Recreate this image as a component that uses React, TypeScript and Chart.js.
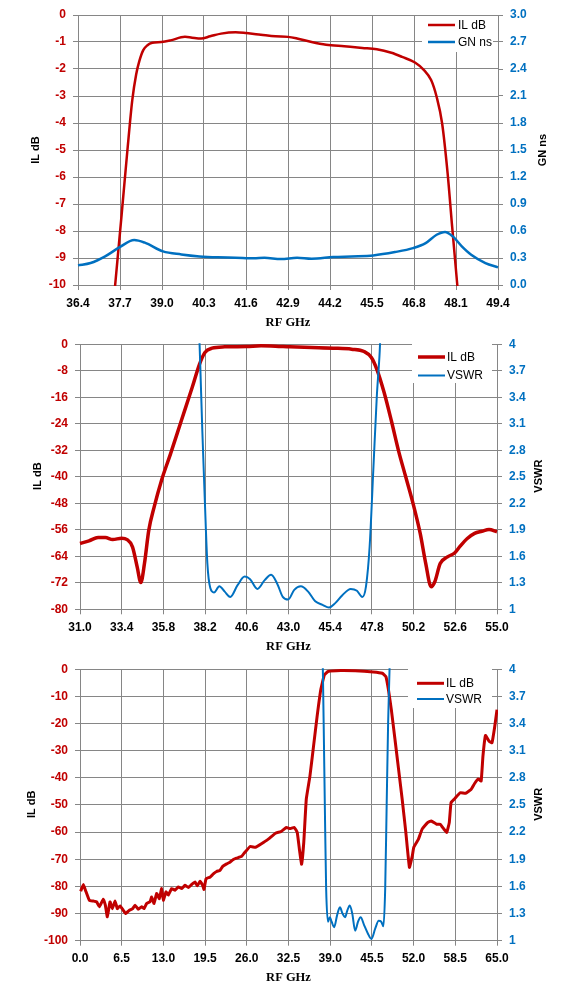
import React, { useEffect, useRef } from 'react';
import { Chart, registerables } from 'chart.js';

Chart.register(...registerables);

const W = 567;
const RED = '#C00000';
const BLUE = '#0070C0';
const GRID = '#868686';
const SANS = '"Liberation Sans", Arial, sans-serif';
const SERIF = '"Liberation Serif", "Times New Roman", serif';

// ---- panel 1: 36.4 .. 49.4 GHz, IL and group delay
const x1Ticks = [36.4, 37.7, 39.0, 40.3, 41.6, 42.9, 44.2, 45.5, 46.8, 48.1, 49.4];
const il1Ticks = [-10, -9, -8, -7, -6, -5, -4, -3, -2, -1, 0];
const gn1Ticks = [0.0, 0.3, 0.6, 0.9, 1.2, 1.5, 1.8, 2.1, 2.4, 2.7, 3.0];

const il1Freq = [37.45, 37.55, 37.75, 37.93, 38.08, 38.2, 38.3, 38.42, 38.55, 38.7, 38.98, 39.26, 39.71, 39.93, 40.21, 40.49, 40.83, 41.28, 41.61, 42.06, 42.51, 42.9, 43.18, 43.63, 44.08, 44.64, 45.2, 45.65, 46.1, 46.43, 46.83, 47.11, 47.33, 47.5, 47.67, 47.84, 47.98, 48.14, 48.24];
const il1 = [-11.3, -10, -7.4, -5.0, -3.15, -2.2, -1.7, -1.3, -1.12, -1.03, -1.0, -0.94, -0.81, -0.84, -0.87, -0.79, -0.69, -0.64, -0.67, -0.73, -0.79, -0.81, -0.87, -1.0, -1.1, -1.16, -1.22, -1.27, -1.4, -1.55, -1.76, -2.04, -2.41, -3.03, -4.01, -5.86, -7.83, -10, -11.3];

const gn1Freq = [36.4, 36.79, 37.24, 37.69, 38.14, 38.47, 39.03, 39.6, 40.16, 40.72, 41.28, 41.84, 42.17, 42.68, 43.18, 43.63, 44.3, 44.86, 45.54, 46.21, 46.77, 47.16, 47.5, 47.76, 48.0, 48.28, 48.57, 49.01, 49.4];
const gn1 = [0.218, 0.244, 0.318, 0.42, 0.5, 0.47, 0.373, 0.34, 0.318, 0.307, 0.303, 0.296, 0.303, 0.288, 0.303, 0.292, 0.31, 0.318, 0.329, 0.366, 0.41, 0.465, 0.558, 0.59, 0.54, 0.43, 0.336, 0.244, 0.196];

// ---- panel 2: 31 .. 55 GHz, IL and VSWR
const x2Ticks = [31.0, 33.4, 35.8, 38.2, 40.6, 43.0, 45.4, 47.8, 50.2, 52.6, 55.0];
const il2Ticks = [-80, -72, -64, -56, -48, -40, -32, -24, -16, -8, 0];
const vswrTicks = [1, 1.3, 1.6, 1.9, 2.2, 2.5, 2.8, 3.1, 3.4, 3.7, 4];

const il2Freq = [31.0, 31.52, 32.04, 32.46, 32.88, 33.4, 33.71, 34.02, 34.29, 34.5, 34.71, 34.96, 35.27, 35.69, 36.21, 36.83, 37.46, 37.88, 38.19, 38.6, 39.33, 40.58, 41.42, 42.25, 43.08, 44.33, 45.58, 46.63, 47.35, 47.77, 48.08, 48.5, 48.92, 49.33, 49.75, 50.17, 50.58, 50.9, 51.21, 51.42, 51.73, 52.15, 52.56, 52.88, 53.29, 53.71, 54.13, 54.54, 55.0];
const il2 = [-60.15, -59.35, -58.35, -58.35, -58.95, -58.55, -58.95, -61.15, -67.2, -71.9, -66.2, -56.1, -49.1, -41.1, -33.1, -23.1, -13.0, -6.0, -2.5, -1.2, -0.8, -0.7, -0.5, -0.6, -0.8, -1.0, -1.2, -1.5, -2.2, -4.0, -7.5, -14.5, -23.1, -32.1, -40.1, -48.1, -57.1, -66.2, -73.2, -71.7, -66.2, -64.2, -63.0, -60.95, -58.65, -57.1, -56.45, -55.9, -56.6];

const vswr2Freq = [37.84, 37.92, 38.04, 38.19, 38.33, 38.5, 38.71, 39.02, 39.33, 39.65, 40.06, 40.48, 40.79, 41.21, 41.63, 42.0, 42.35, 42.67, 42.98, 43.33, 43.71, 44.13, 44.54, 44.96, 45.33, 45.69, 46.1, 46.58, 46.94, 47.25, 47.46, 47.67, 47.88, 48.08, 48.25, 48.32];
const vswr2 = [4.25, 3.77, 3.02, 2.2, 1.52, 1.24, 1.19, 1.26, 1.2, 1.14, 1.27, 1.37, 1.34, 1.23, 1.33, 1.39, 1.29, 1.14, 1.11, 1.22, 1.26, 1.2, 1.09, 1.05, 1.02, 1.07, 1.16, 1.23, 1.21, 1.14, 1.26, 1.71, 2.57, 3.4, 3.92, 4.25];

// ---- panel 3: 0 .. 65 GHz, wide sweep
const x3Ticks = [0.0, 6.5, 13.0, 19.5, 26.0, 32.5, 39.0, 45.5, 52.0, 58.5, 65.0];
const il3Ticks = [-100, -90, -80, -70, -60, -50, -40, -30, -20, -10, 0];

const il3Freq = [0.1, 0.52, 0.94, 1.45, 2.08, 2.6, 3.01, 3.64, 3.95, 4.26, 4.68, 5.04, 5.46, 5.82, 6.24, 6.75, 7.12, 7.69, 8.21, 8.57, 9.09, 9.61, 9.98, 10.39, 10.91, 11.17, 11.54, 11.95, 12.37, 12.73, 12.99, 13.41, 13.77, 14.29, 14.81, 15.33, 15.85, 16.37, 16.89, 17.41, 17.93, 18.29, 18.71, 19.12, 19.33, 19.64, 20.26, 20.78, 21.3, 21.82, 22.24, 22.86, 23.38, 23.9, 24.42, 25.2, 25.68, 26.52, 27.37, 28.22, 29.35, 30.47, 31.32, 32.17, 32.73, 33.41, 33.86, 34.2, 34.54, 34.88, 35.27, 35.84, 36.4, 36.96, 37.53, 38.09, 38.66, 40.63, 42.89, 45.71, 47.12, 47.68, 48.08, 48.53, 49.1, 49.66, 50.22, 50.79, 51.35, 51.8, 52.03, 52.76, 53.33, 54.18, 54.74, 55.59, 56.15, 56.72, 57.17, 57.56, 57.84, 58.41, 59.26, 60.1, 60.95, 61.51, 62.08, 62.53, 62.81, 63.21, 63.77, 64.22, 64.62, 65.0];
const il3 = [-81.8, -79.3, -82.0, -85.1, -85.4, -85.7, -87.5, -84.7, -86.9, -91.2, -85.7, -88.2, -85.4, -88.2, -87.2, -88.8, -90.0, -88.8, -88.2, -86.9, -88.4, -87.5, -88.2, -86.3, -85.7, -83.9, -86.3, -82.6, -84.5, -80.8, -85.1, -82.0, -83.2, -80.8, -81.4, -80.2, -80.8, -79.6, -80.4, -79.3, -78.4, -79.8, -78.1, -79.6, -81.1, -77.2, -76.6, -75.4, -74.5, -74.1, -72.6, -71.7, -71.1, -70.1, -69.6, -68.9, -67.5, -65.3, -65.6, -64.4, -62.6, -60.4, -59.8, -58.3, -58.7, -58.3, -60.1, -66.3, -71.8, -63.8, -47.9, -39.4, -28.4, -17.4, -7.6, -2.1, -0.86, -0.5, -0.6, -1.0, -1.5, -2.7, -7.6, -14.9, -25.9, -36.9, -47.9, -60.1, -73.0, -68.7, -65.6, -62.6, -58.9, -56.5, -55.9, -57.1, -57.1, -58.9, -60.1, -56.5, -49.1, -47.7, -45.5, -45.7, -44.3, -42.1, -40.4, -41.2, -32.0, -24.4, -26.5, -27.1, -21.6, -14.9];

const vswr3Freq = [37.8, 37.98, 38.2, 38.37, 38.66, 38.94, 39.22, 39.62, 40.07, 40.52, 40.92, 41.31, 41.65, 42.05, 42.44, 42.89, 43.34, 43.74, 44.3, 44.87, 45.43, 46.0, 46.56, 46.96, 47.29, 47.57, 47.8, 48.03, 48.25, 48.33];
const vswr3 = [4.25, 3.41, 2.31, 1.57, 1.21, 1.26, 1.21, 1.15, 1.28, 1.37, 1.3, 1.26, 1.33, 1.39, 1.3, 1.11, 1.21, 1.26, 1.17, 1.08, 1.02, 1.13, 1.22, 1.21, 1.16, 1.57, 2.49, 3.41, 4.0, 4.25];

const fix1 = (v: number) => v.toFixed(1);
const plain = (v: number) => String(Number(v.toFixed(1)));

interface Series {
  label: string;
  color: string;
  width: number;
  freq: number[];
  values: number[];
  axis: 'y' | 'y2';
  tension?: number;
}

interface PanelProps {
  top: number;
  height: number;
  area: { left: number; right: number; top: number; bottom: number };
  xTicks: number[];
  yTicks: number[];
  y2Ticks: number[];
  yFmt: (v: number) => string;
  y2Fmt: (v: number) => string;
  series: Series[];
  yTitle: string;
  y2Title: string;
  yTitleX: number;
  y2TitleX: number;
  xTitleY: number;
  legend: { box: [number, number, number, number]; line: [number, number]; textX: number; rows: number[] };
}

const Panel: React.FC<PanelProps> = (p) => {
  const canvasRef = useRef<HTMLCanvasElement>(null);
  const chartRef = useRef<Chart | null>(null);

  useEffect(() => {
    if (!canvasRef.current) return;
    if (chartRef.current) chartRef.current.destroy();

    const midY = (p.area.top + p.area.bottom) / 2;
    const midX = (p.area.left + p.area.right) / 2;

    // legend box over the grid, axis titles drawn by hand
    const frame = {
      id: 'frame',
      beforeDatasetsDraw(chart: Chart) {
        const ctx = chart.ctx;
        const [bx, by, bw, bh] = p.legend.box;
        ctx.save();
        ctx.fillStyle = '#fff';
        ctx.fillRect(bx, by, bw, bh);
        p.series.forEach((s, i) => {
          const y = p.legend.rows[i];
          ctx.strokeStyle = s.color;
          ctx.lineWidth = s.width;
          ctx.beginPath();
          ctx.moveTo(p.legend.line[0], y);
          ctx.lineTo(p.legend.line[1], y);
          ctx.stroke();
          ctx.fillStyle = '#000';
          ctx.font = `12px ${SANS}`;
          ctx.textAlign = 'left';
          ctx.textBaseline = 'middle';
          ctx.fillText(s.label, p.legend.textX, y + 0.5);
        });
        ctx.restore();
      },
      afterDraw(chart: Chart) {
        const ctx = chart.ctx;
        const vertical = (text: string, x: number) => {
          ctx.save();
          ctx.translate(x, midY);
          ctx.rotate(-Math.PI / 2);
          ctx.fillText(text, 0, 0);
          ctx.restore();
        };
        ctx.save();
        ctx.fillStyle = '#000';
        ctx.textAlign = 'center';
        ctx.textBaseline = 'middle';
        ctx.font = `bold 11px ${SANS}`;
        vertical(p.yTitle, p.yTitleX);
        vertical(p.y2Title, p.y2TitleX);
        ctx.font = `bold 12.5px ${SERIF}`;
        ctx.fillText('RF GHz', midX, p.xTitleY);
        ctx.restore();
      },
    };

    const tickFont = { family: SANS, size: 12, weight: 'bold' as const };
    const setTicks = (list: number[]) => (scale: any) => {
      scale.ticks = list.map((value) => ({ value }));
    };

    chartRef.current = new Chart(canvasRef.current, {
      type: 'line',
      data: {
        datasets: p.series.map((s, i) => ({
          label: s.label,
          data: s.freq.map((x, k) => ({ x, y: s.values[k] })),
          borderColor: s.color,
          backgroundColor: s.color,
          borderWidth: s.width,
          pointRadius: 0,
          fill: false,
          yAxisID: s.axis,
          tension: s.tension ?? 0,
          cubicInterpolationMode: s.tension === undefined ? 'monotone' : 'default',
          clip: 1,
          order: i === 0 ? 1 : 0,
        })),
      },
      options: {
        responsive: false,
        animation: false,
        events: [],
        layout: { padding: { top: p.area.top, left: 0, right: 0, bottom: 0 } },
        plugins: { legend: { display: false }, tooltip: { enabled: false } },
        scales: {
          x: {
            type: 'linear',
            min: p.xTicks[0],
            max: p.xTicks[p.xTicks.length - 1],
            afterBuildTicks: setTicks(p.xTicks),
            afterFit: (s: any) => { s.height = p.height - p.area.bottom; },
            ticks: { color: '#000', font: tickFont, padding: 6, maxRotation: 0, autoSkip: false, callback: (v: any) => fix1(Number(v)) },
            grid: { color: GRID, tickLength: 5 },
            border: { color: GRID },
          },
          y: {
            position: 'left',
            min: p.yTicks[0],
            max: p.yTicks[p.yTicks.length - 1],
            afterBuildTicks: setTicks(p.yTicks),
            afterFit: (s: any) => { s.width = p.area.left; },
            ticks: { color: RED, font: tickFont, padding: 7, autoSkip: false, callback: (v: any) => p.yFmt(Number(v)) },
            grid: { color: GRID, tickLength: 5 },
            border: { color: GRID },
          },
          y2: {
            position: 'right',
            min: p.y2Ticks[0],
            max: p.y2Ticks[p.y2Ticks.length - 1],
            afterBuildTicks: setTicks(p.y2Ticks),
            afterFit: (s: any) => { s.width = W - p.area.right; },
            ticks: { color: BLUE, font: tickFont, padding: 7, autoSkip: false, callback: (v: any) => p.y2Fmt(Number(v)) },
            grid: { color: GRID, tickLength: 5, drawOnChartArea: false },
            border: { color: GRID },
          },
        },
      },
      plugins: [frame],
    });

    return () => {
      if (chartRef.current) {
        chartRef.current.destroy();
        chartRef.current = null;
      }
    };
  }, []);

  return (
    <canvas
      ref={canvasRef}
      width={W}
      height={p.height}
      style={{ position: 'absolute', left: 0, top: p.top, width: W, height: p.height }}
    />
  );
};

const App: React.FC = () => {
  return (
    <div style={{ position: 'absolute', left: 0, top: 0, width: W, height: 1003, background: '#fff' }}>
      <Panel
        top={0}
        height={330}
        area={{ left: 78, right: 498, top: 15, bottom: 285 }}
        xTicks={x1Ticks}
        yTicks={il1Ticks}
        y2Ticks={gn1Ticks}
        yFmt={plain}
        y2Fmt={fix1}
        series={[
          { label: 'IL dB', color: RED, width: 2.5, freq: il1Freq, values: il1, axis: 'y' },
          { label: 'GN ns', color: BLUE, width: 2.5, freq: gn1Freq, values: gn1, axis: 'y2' },
        ]}
        yTitle="IL dB"
        y2Title="GN ns"
        yTitleX={36}
        y2TitleX={543}
        xTitleY={323}
        legend={{ box: [422, 16, 71, 36], line: [428, 455], textX: 458, rows: [25, 42] }}
      />
      <Panel
        top={330}
        height={325}
        area={{ left: 80, right: 497, top: 13, bottom: 279.3 }}
        xTicks={x2Ticks}
        yTicks={il2Ticks}
        y2Ticks={vswrTicks}
        yFmt={plain}
        y2Fmt={plain}
        series={[
          { label: 'IL dB', color: RED, width: 3.5, freq: il2Freq, values: il2, axis: 'y' },
          { label: 'VSWR', color: BLUE, width: 2, freq: vswr2Freq, values: vswr2, axis: 'y2' },
        ]}
        yTitle="IL dB"
        y2Title="VSWR"
        yTitleX={38}
        y2TitleX={539}
        xTitleY={317}
        legend={{ box: [412, 14, 80, 39], line: [418, 445], textX: 447, rows: [27, 45.5] }}
      />
      <Panel
        top={655}
        height={348}
        area={{ left: 80, right: 497, top: 13, bottom: 285.7 }}
        xTicks={x3Ticks}
        yTicks={il3Ticks}
        y2Ticks={vswrTicks}
        yFmt={plain}
        y2Fmt={plain}
        series={[
          { label: 'IL dB', color: RED, width: 3, freq: il3Freq, values: il3, axis: 'y', tension: 0.1 },
          { label: 'VSWR', color: BLUE, width: 2, freq: vswr3Freq, values: vswr3, axis: 'y2' },
        ]}
        yTitle="IL dB"
        y2Title="VSWR"
        yTitleX={32}
        y2TitleX={539}
        xTitleY={323}
        legend={{ box: [408, 14, 84, 39], line: [417, 444], textX: 446, rows: [28.3, 44] }}
      />
    </div>
  );
};

export default App;
